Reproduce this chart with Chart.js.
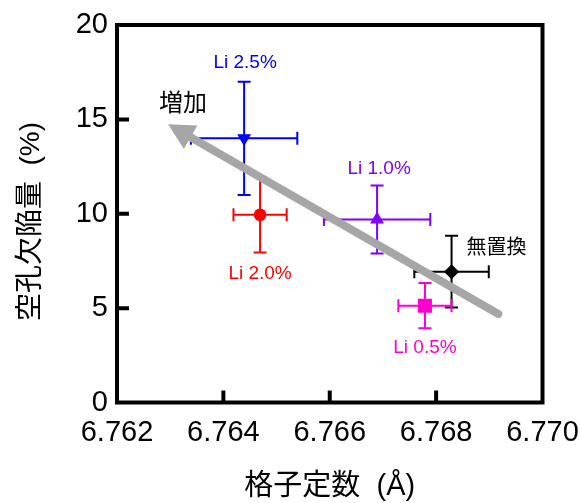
<!DOCTYPE html>
<html>
<head>
<meta charset="utf-8">
<script src="https://cdn.jsdelivr.net/npm/chart.js@4/dist/chart.umd.min.js"></script>
<style>
html,body{margin:0;padding:0;background:#fff;}
canvas{display:block;}
</style>
</head>
<body>
<canvas id="c" width="580" height="503"></canvas>
<script>
// ---- data ----
const sampleLabels = ['Li 2.5%', 'Li 2.0%', 'Li 1.0%', '無置換', 'Li 0.5%'];
const latticeConst = [6.76439, 6.76469, 6.76689, 6.76829, 6.76779];
const vacancy = [14.0, 9.95, 9.7, 6.93, 5.13];
const latticeErr = [0.0010, 0.0005, 0.0010, 0.0007, 0.0005];
const vacancyErr = [3.0, 2.0, 1.8, 1.9, 1.2];
const xTickValues = [6.762, 6.764, 6.766, 6.768, 6.770];
const yTickValues = [0, 5, 10, 15, 20];
const arrowX = [6.76917, 6.76296];   // tail, tip
const arrowY = [4.69, 14.74];
const arrowText = '増加';
const xTitle = '格子定数  (Å)';
const yTitle = '空孔欠陥量  (%)';

// ---- styles ----
const colors = ['#0000ff', '#ff0000', '#7f00ff', '#000000', '#ff00cc'];
const pStyles = ['triangle', 'circle', 'triangle', 'rectRot', 'rect'];
const pRot = [180, 0, 0, 0, 0];
const pRad = [8, 6.3, 8, 7.5, 9.9];
const labelOffset = [[1, -75], [0, 59], [2, -51], [45, -25], [0, 42]];
const LATIN = '"Liberation Sans", Arial, "Noto Sans CJK JP", sans-serif';
const CJK = '"Noto Sans CJK JP", "Liberation Sans", sans-serif';

const datasets = sampleLabels.map((lab, i) => ({
  label: lab,
  data: [{x: latticeConst[i], y: vacancy[i]}],
  pointStyle: pStyles[i],
  rotation: pRot[i],
  radius: pRad[i],
  backgroundColor: colors[i],
  borderColor: colors[i],
  borderWidth: 0,
  showLine: false
}));

const errorBars = {
  id: 'errorBars',
  beforeDatasetsDraw(chart) {
    const {ctx, scales: {x, y}} = chart;
    ctx.save();
    ctx.lineWidth = 2;
    const cap = 6.5;
    for (let i = 0; i < latticeConst.length; i++) {
      ctx.strokeStyle = colors[i];
      const px = x.getPixelForValue(latticeConst[i]);
      const py = y.getPixelForValue(vacancy[i]);
      const x1 = x.getPixelForValue(latticeConst[i] - latticeErr[i]);
      const x2 = x.getPixelForValue(latticeConst[i] + latticeErr[i]);
      const y1 = y.getPixelForValue(vacancy[i] + vacancyErr[i]);
      const y2 = y.getPixelForValue(vacancy[i] - vacancyErr[i]);
      ctx.beginPath();
      ctx.moveTo(x1, py); ctx.lineTo(x2, py);
      ctx.moveTo(x1, py - cap); ctx.lineTo(x1, py + cap);
      ctx.moveTo(x2, py - cap); ctx.lineTo(x2, py + cap);
      ctx.moveTo(px, y1); ctx.lineTo(px, y2);
      ctx.moveTo(px - cap, y1); ctx.lineTo(px + cap, y1);
      ctx.moveTo(px - cap, y2); ctx.lineTo(px + cap, y2);
      ctx.stroke();
    }
    ctx.restore();
  },
  afterDatasetsDraw(chart) {
    const {ctx, scales: {x, y}, chartArea: a} = chart;
    ctx.save();
    // arrow
    const tx = x.getPixelForValue(arrowX[0]), ty = y.getPixelForValue(arrowY[0]);
    const hx = x.getPixelForValue(arrowX[1]), hy = y.getPixelForValue(arrowY[1]);
    const dx = hx - tx, dy = hy - ty, L = Math.hypot(dx, dy);
    const ux = dx / L, uy = dy / L;
    const headLen = 26, headHalf = 13.5;
    const bx = hx - ux * headLen, by = hy - uy * headLen;
    ctx.strokeStyle = '#a6a6a6';
    ctx.fillStyle = '#a6a6a6';
    ctx.lineWidth = 8;
    ctx.lineCap = 'round';
    ctx.beginPath();
    ctx.moveTo(tx, ty);
    ctx.lineTo(bx + ux * 3, by + uy * 3);
    ctx.stroke();
    ctx.beginPath();
    ctx.moveTo(hx, hy);
    ctx.lineTo(bx - uy * headHalf, by + ux * headHalf);
    ctx.lineTo(bx + uy * headHalf, by - ux * headHalf);
    ctx.closePath();
    ctx.fill();
    // arrow text
    ctx.fillStyle = '#000';
    ctx.font = '24px ' + CJK;
    ctx.textAlign = 'center';
    ctx.textBaseline = 'middle';
    ctx.fillText(arrowText, hx + 15, hy - 22);
    // point labels
    for (let i = 0; i < sampleLabels.length; i++) {
      const px = x.getPixelForValue(latticeConst[i]);
      const py = y.getPixelForValue(vacancy[i]);
      ctx.fillStyle = colors[i];
      ctx.font = (/[A-Za-z]/.test(sampleLabels[i]) ? '19px ' + LATIN : '20px ' + CJK);
      ctx.fillText(sampleLabels[i], px + labelOffset[i][0], py + labelOffset[i][1]);
    }
    // frame
    ctx.strokeStyle = '#000';
    ctx.lineWidth = 4;
    ctx.lineCap = 'butt';
    ctx.strokeRect(a.left, a.top, a.right - a.left, a.bottom - a.top);
    // inward ticks
    const tl = 12;
    ctx.beginPath();
    x.ticks.forEach(t => {
      if (t.value <= x.min || t.value >= x.max) return;
      const p = x.getPixelForValue(t.value);
      ctx.moveTo(p, a.bottom); ctx.lineTo(p, a.bottom - tl);
    });
    y.ticks.forEach(t => {
      if (t.value <= y.min || t.value >= y.max) return;
      const p = y.getPixelForValue(t.value);
      ctx.moveTo(a.left, p); ctx.lineTo(a.left + tl, p);
    });
    ctx.stroke();
    ctx.restore();
  }
};

new Chart(document.getElementById('c'), {
  type: 'scatter',
  data: {datasets},
  options: {
    responsive: false,
    animation: false,
    devicePixelRatio: 1,
    layout: {padding: {top: 25, right: 37.5, left: 0, bottom: 0}},
    plugins: {legend: {display: false}, tooltip: {enabled: false}},
    scales: {
      x: {
        type: 'linear', min: 6.762, max: 6.770,
        afterBuildTicks: s => { s.ticks = xTickValues.map(v => ({value: v})); },
        afterFit: s => { s.height = 100.5; s.paddingRight = 0; s.paddingLeft = 0; },
        grid: {display: false, drawTicks: false},
        border: {display: false},
        ticks: {
          color: '#000', padding: 13, maxRotation: 0, autoSkip: false,
          font: {family: LATIN, size: 29, lineHeight: 1.2},
          callback: v => Number(v).toFixed(3)
        },
        title: {display: true, text: xTitle, color: '#000',
          font: {family: LATIN, size: 29, lineHeight: 1}, padding: {top: 0, bottom: 1.5}}
      },
      y: {
        type: 'linear', min: 0, max: 20,
        afterBuildTicks: s => { s.ticks = yTickValues.map(v => ({value: v})); },
        afterFit: s => { s.width = 117; s.paddingTop = 0; s.paddingBottom = 0; },
        grid: {display: false, drawTicks: false},
        border: {display: false},
        ticks: {
          color: '#000', padding: 9,
          font: {family: LATIN, size: 29, lineHeight: 1.2},
          callback: v => String(v)
        },
        title: {display: true, text: yTitle + '  ', color: '#000',
          font: {family: LATIN, size: 28, lineHeight: 1}, padding: {top: 17.5, bottom: 0}}
      }
    }
  },
  plugins: [errorBars]
});
</script>
</body>
</html>
